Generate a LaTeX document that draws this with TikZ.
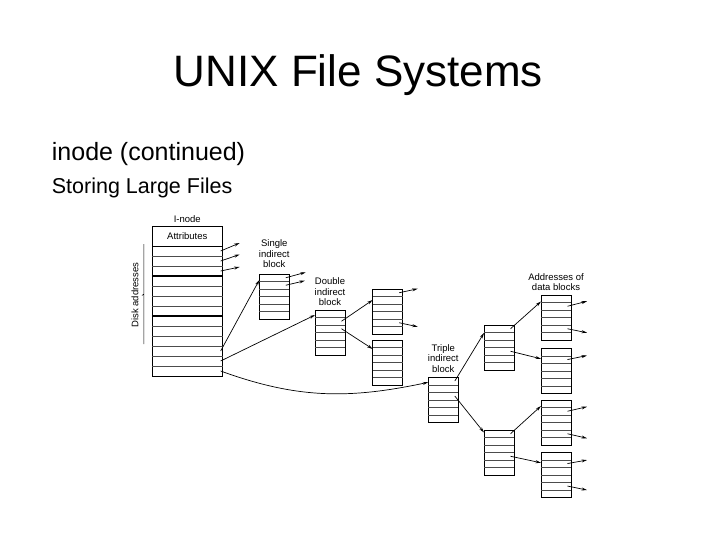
\documentclass[tikz,border=0pt]{standalone}
\usepackage{fontspec}
\setmainfont{Liberation Sans}
\usetikzlibrary{arrows.meta, positioning, calc}
\tikzset{
    blk/.style={draw, line width=.9pt, minimum width=30pt, minimum height=45pt,
        inner sep=0pt, outer sep=0pt},
    row/.style={black!70, line width=.6pt},
    ptr/.style={-{Stealth[length=5.5pt, width=3pt]}, line width=.7pt},
    lbl/.style={font=\fontsize{9.5}{10.7}\selectfont, align=center, inner sep=0pt},
}
% separators of a 6 row block, and one coordinate per row (name-1 ... name-6)
\newcommand{\blockrows}[1]{%
    \foreach \k in {1,...,5}
        \draw[row] ($(#1.north west)!\k/6!(#1.south west)$)
            -- ($(#1.north east)!\k/6!(#1.south east)$);
    \foreach \k [evaluate=\k as \f using (\k-.5)/6] in {1,...,6}
        \coordinate (#1-\k) at ($(#1.north east)!\f!(#1.south east)+(-3.5,0)$);
}

\begin{document}
\begin{tikzpicture}[x=1pt, y=-1pt]
    \useasboundingbox (0,0) rectangle (720,540);
    \node[anchor=base, font=\fontsize{44}{48}\selectfont] (title) at (358.3,86.7)
        {UNIX File Systems};
    \node[anchor=base west, inner sep=0pt, font=\fontsize{25}{28}\selectfont]
        (topic) at (51.7,161) {inode (continued)};
    \node[anchor=base west, inner sep=0pt, font=\fontsize{21.5}{24}\selectfont]
        (subtopic) at (51.7,193.3) {Storing Large Files};

    % i-node
    \node[blk, lbl, minimum width=70.7pt, minimum height=20pt] (attr) at (187.3,236)
        {Attributes};
    \node[blk, minimum width=70.7pt, minimum height=130pt, below=0pt of attr] (inode) {};
    \node[lbl, above=3.5pt of attr] (inodelbl) {I-node};
    \foreach \k in {1,...,12}
        \draw[row] ($(inode.north west)+(0,10*\k)$) -- ($(inode.north east)+(0,10*\k)$);
    \foreach \k in {3,7}
        \draw[line width=1.1pt] ($(inode.north west)+(0,10*\k)$)
            -- ($(inode.north east)+(0,10*\k)$);
    \foreach \k in {1,...,13}
        \coordinate (inode-\k) at ($(inode.north east)+(-2,10*\k-5)$);
    \draw[line width=.5pt] ($(inode.north west)+(-8,-2)$) -- ($(inode.north west)+(-8,98)$)
        ($(inode.north west)+(-8,48)$) -- ++(-2,1.5);
    \node[lbl, rotate=90] (disklbl) at ($(inode.north west)+(-17,49)$) {Disk addresses};

    % indirect blocks
    \node[blk] (single) at (274.3,296.5) {};
    \node[blk] (double) at (330,332.5) {};
    \node[blk] (dblA) at (387.7,311.5) {};
    \node[blk] (dblB) at (387.7,362.5) {};
    \node[blk] (triple) at (443.3,399.8) {};
    \node[blk] (trA) at (499,347.5) {};
    \node[blk] (trB) at (499,452.5) {};
    \node[blk] (dataA) at (556,317.5) {};
    \node[blk] (dataB) at (556,370.8) {};
    \node[blk] (dataC) at (556,422.5) {};
    \node[blk] (dataD) at (556,474.8) {};
    \foreach \b in {single,double,dblA,dblB,triple,trA,trB,dataA,dataB,dataC,dataD}
        {\blockrows{\b}}

    \node[lbl, above=6pt of single] (singlelbl) {Single\\indirect\\block};
    \node[lbl, above=4pt of double] (doublelbl) {Double\\indirect\\block};
    \node[lbl, above=4.5pt of triple] (triplelbl) {Triple\\indirect\\block};
    \node[lbl, above=4pt of dataA] (datalbl) {Addresses of\\data blocks};

    % pointers
    \draw[ptr] (inode-1) -- ++(19,-8);
    \draw[ptr] (inode-2) -- ++(19,-6.5);
    \draw[ptr] (inode-3) -- ++(19,-4);
    \draw[ptr] (inode-11) -- ($(single.north west)+(0,6)$);
    \draw[ptr] (inode-12) -- ($(double.north west)+(0,5)$);
    \draw[ptr] (inode-13) to[out=-20, in=192] ($(triple.north west)+(0,5)$);

    \draw[ptr] (single-1) -- ++(20,-5.5);
    \draw[ptr] (single-2) -- ++(19,-4.5);

    \draw[ptr] (double-2) -- ($(dblA.north west)+(0,11)$);
    \draw[ptr] (double-3) -- ($(dblB.north west)+(0,9)$);
    \draw[ptr] (dblA-1) -- ++(18.5,-4);
    \draw[ptr] (dblA-5) -- ++(18.5,4);

    \draw[ptr] (triple-1) -- ($(trA.north west)+(0,8)$);
    \draw[ptr] (triple-3) -- ($(trB.north west)+(0,2.5)$);
    \draw[ptr] (trA-1) -- ($(dataA.north west)+(0,6.5)$);
    \draw[ptr] (trA-4) -- ($(dataB.north west)+(0,10.5)$);
    \draw[ptr] (trB-1) -- ($(dataC.north west)+(0,6)$);
    \draw[ptr] (trB-4) -- ($(dataD.north west)+(0,10.5)$);

    \draw[ptr] (dataA-2) -- ++(19.5,-5);
    \draw[ptr] (dataA-5) -- ++(19.5,4);
    \draw[ptr] (dataB-2) -- ++(19.5,-4);
    \draw[ptr] (dataC-2) -- ++(19.5,-4.5);
    \draw[ptr] (dataC-5) -- ++(19.5,4.5);
    \draw[ptr] (dataD-2) -- ++(19.5,-3.5);
    \draw[ptr] (dataD-5) -- ++(19.5,4);
\end{tikzpicture}
\end{document}
